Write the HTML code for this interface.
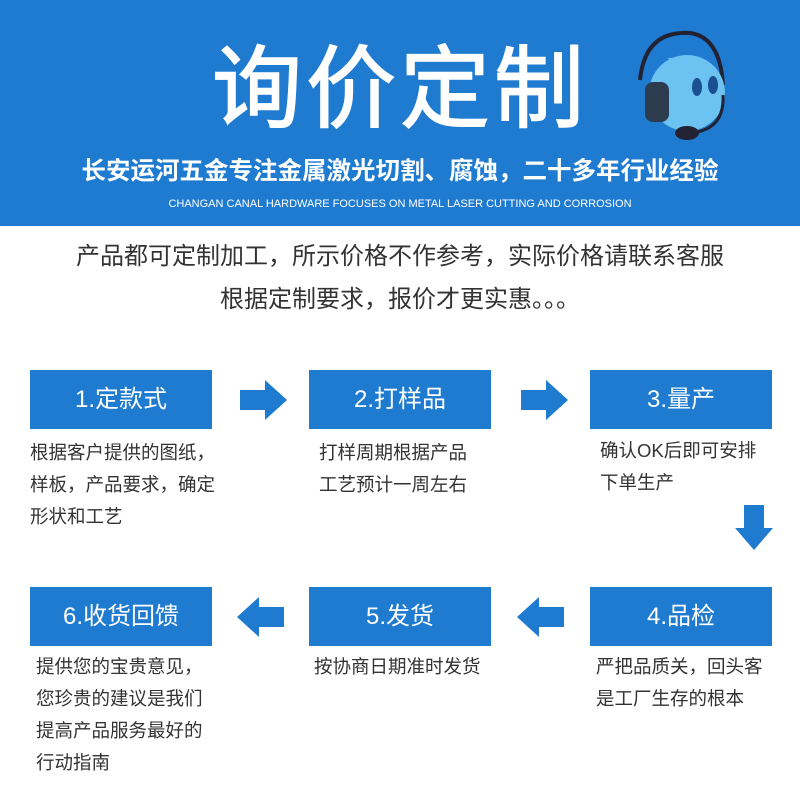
<!DOCTYPE html><html><head><meta charset="utf-8"><style>
body{margin:0;width:800px;height:800px;background:#fff;position:relative;overflow:hidden;font-family:"Liberation Sans","Noto Sans CJK SC",sans-serif}
.a{position:absolute}
.hd{left:0;top:0;width:800px;height:226px;background:#1f7bd0}
.box{position:absolute;width:182px;height:59px;background:#1f7bd0;color:#fff;font-size:24px;text-align:center;line-height:59px}
.d{position:absolute;font-size:18.5px;color:#333;line-height:32px;white-space:nowrap}
</style></head><body>
<div class="a hd"></div>
<div class="a" style="left:205px;top:35px;width:390px;text-align:center;color:#fff;font-size:90px;line-height:110px;letter-spacing:4px;font-weight:normal;-webkit-text-stroke:1.5px #fff">询价定制</div>
<svg class="a" style="left:615px;top:25px" width="110" height="125" viewBox="0 0 110 125">
<path d="M25 55 Q30 5 75 8 Q105 12 108 60" stroke="#223" stroke-width="4" fill="none"/>
<circle cx="72" cy="68" r="38" fill="#6cc2f0"/><path d="M52 33 L85 32 L72 42Z" fill="#6cc2f0"/>
<ellipse cx="82" cy="62" rx="5" ry="9" fill="#1a4f90"/><ellipse cx="98" cy="60" rx="5" ry="9" fill="#1a4f90"/>
<rect x="30" y="57" width="24" height="40" rx="8" fill="#2c3b4e"/>
<path d="M108 70 Q110 105 75 108" stroke="#223" stroke-width="3" fill="none"/>
<ellipse cx="72" cy="108" rx="12" ry="7" fill="#223"/></svg>
<div class="a" style="left:0;top:155px;width:800px;text-align:center;color:#fff;font-size:24.5px;font-weight:bold;line-height:34px">长安运河五金专注金属激光切割、腐蚀，二十多年行业经验</div>
<div class="a" style="left:0;top:196px;width:800px;text-align:center;color:#fff;font-size:11px;line-height:16px">CHANGAN CANAL HARDWARE FOCUSES ON METAL LASER CUTTING AND CORROSION</div>
<div class="a" style="left:0;top:235px;width:800px;text-align:center;color:#333;font-size:24px;line-height:43px">产品都可定制加工，所示价格不作参考，实际价格请联系客服<br>根据定制要求，报价才更实惠。。。</div>
<div class="box" style="left:30px;top:370px">1.定款式</div>
<div class="box" style="left:309px;top:370px">2.打样品</div>
<div class="box" style="left:590px;top:370px">3.量产</div>
<div class="box" style="left:30px;top:587px">6.收货回馈</div>
<div class="box" style="left:309px;top:587px">5.发货</div>
<div class="box" style="left:590px;top:587px">4.品检</div>
<svg class="a" style="left:0;top:0" width="800" height="800" fill="#1f7bd0">
<polygon points="240,390 265,390 265,380 287,400 265,420 265,410 240,410"/>
<polygon points="521,390 546,390 546,380 568,400 546,420 546,410 521,410"/>
<polygon points="744,505 764,505 764,528 773,528 754,550 735,528 744,528"/>
<polygon points="284,607 259,607 259,597 237,617 259,637 259,627 284,627"/>
<polygon points="564,607 539,607 539,597 517,617 539,637 539,627 564,627"/>
</svg>
<div class="d" style="left:30px;top:437px">根据客户提供的图纸，<br>样板，产品要求，确定<br>形状和工艺</div>
<div class="d" style="left:319px;top:437px">打样周期根据产品<br>工艺预计一周左右</div>
<div class="d" style="left:600px;top:435px">确认OK后即可安排<br>下单生产</div>
<div class="d" style="left:36px;top:651px">提供您的宝贵意见，<br>您珍贵的建议是我们<br>提高产品服务最好的<br>行动指南</div>
<div class="d" style="left:314px;top:651px">按协商日期准时发货</div>
<div class="d" style="left:596px;top:651px">严把品质关，回头客<br>是工厂生存的根本</div>
</body></html>
